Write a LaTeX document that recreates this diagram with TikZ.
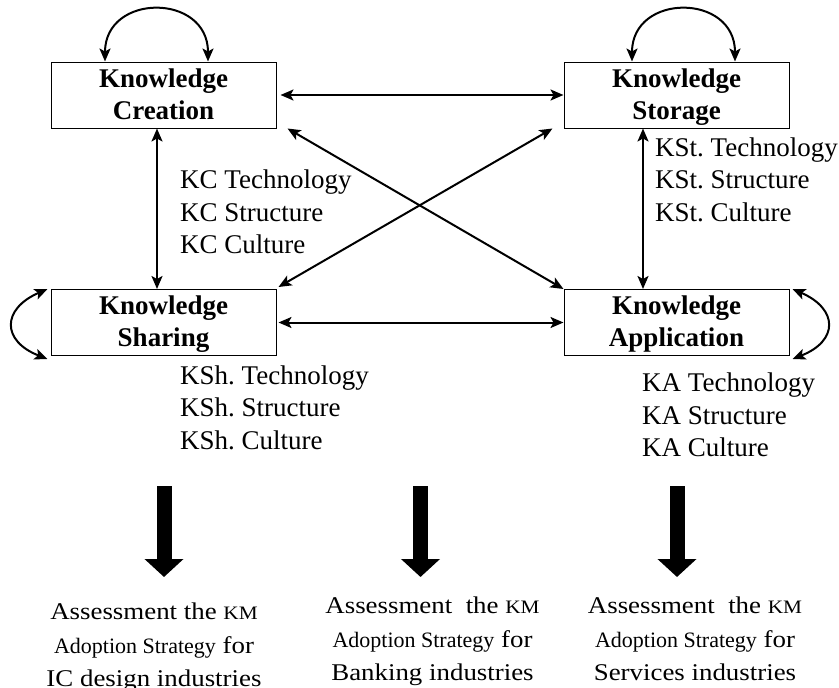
\documentclass[tikz,border=0pt]{standalone}
\usepackage{fontspec}
\setmainfont{Liberation Serif}
\newfontfamily\widefont[FakeStretch=1.12]{Liberation Serif}
\usetikzlibrary{arrows.meta}
\frenchspacing

\tikzset{
  kbox/.style={draw, line width=1pt, minimum width=225pt, minimum height=66pt,
    inner sep=0pt, align=center, font=\bfseries\fontsize{27}{32}\selectfont},
  tipk/.tip={Stealth[length=13pt,width=11pt,inset=3pt]},
  link/.style={line width=2pt, tipk-tipk},
  loop/.style={line width=2pt, tipk-tipk},
  lbl/.style={align=left, inner sep=0pt, anchor=south west,
    font=\fontsize{27}{32.5}\selectfont},
  bigarrow/.style={line width=15pt, -{Triangle[length=18pt,width=38pt]}},
  btm/.style={inner sep=0pt, anchor=base, font=\widefont\fontsize{24}{28}\selectfont}
}
% second line of a box label: fixed depth so all labels sit alike
\newcommand{\lowline}[1]{\raisebox{0pt}[\height][0pt]{#1}\rule[-2.4pt]{0pt}{0pt}}
\newcommand{\kmsmall}[1]{{\fontsize{19}{20}\selectfont #1}}
\newcommand{\adoptsmall}[1]{{\normalfont\fontsize{22}{24}\selectfont #1}}

\begin{document}
\begin{tikzpicture}[x=1pt,y=-1pt]
\useasboundingbox (0,0) rectangle (839,688);

% the four knowledge processes
\node[kbox] (KC)  at (163.5,95)    {Knowledge\\\lowline{Creation}};
\node[kbox] (KSt) at (676.5,95)    {Knowledge\\\lowline{Storage}};
\node[kbox] (KSh) at (163.5,322.5) {Knowledge\\\lowline{Sharing}};
\node[kbox] (KA)  at (676.5,322.5) {Knowledge\\\lowline{Application}};

% links between the processes
\draw[link, shorten <=4pt] (KC.east) -- (KSt.west);
\draw[link, shorten <=2pt] (KSh.east) -- (KA.west);
\draw[link] ([xshift=-6.5pt]KC.south) -- ([xshift=-6.5pt]KSh.north);
\draw[link] ([xshift=-33.5pt]KSt.south) -- ([xshift=-33.5pt]KA.north);
\draw[link] ([xshift=11pt]KC.south east) -- (KA.north west);
\draw[link] ([xshift=2pt,yshift=2pt]KSh.north east) -- ([xshift=-11pt]KSt.south west);

% self loops
\draw[loop] ([xshift=-58.5pt]KC.north) .. controls +(0,-68.7) and +(0,-68.7) .. ([xshift=44.5pt]KC.north);
\draw[loop] ([xshift=-44.5pt]KSt.north) .. controls +(0,-68.7) and +(0,-68.7) .. ([xshift=58.5pt]KSt.north);
\draw[loop] ([xshift=-3pt]KSh.north west) .. controls +(-46,20) and +(-46,-18) .. ([xshift=-3pt,yshift=-3pt]KSh.south west);
\draw[loop] ([xshift=3pt]KA.north east) .. controls +(46,20) and +(46,-18) .. ([xshift=3pt,yshift=-3pt]KA.south east);

% dimension labels
\node[lbl] (lKC)  at (180,254) {KC Technology\\KC Structure\\KC Culture};
\node[lbl] (lKSt) at (655,222) {KSt. Technology\\KSt. Structure\\KSt. Culture};
\node[lbl] (lKSh) at (180,450) {KSh. Technology\\KSh. Structure\\KSh. Culture};
\node[lbl] (lKA)  at (642,457) {KA Technology\\KA Structure\\KA Culture};

% outcome arrows
\coordinate (a1s) at (164,486);   \coordinate (a1e) at (164,577);
\coordinate (a2s) at (420.5,486); \coordinate (a2e) at (420.5,577);
\coordinate (a3s) at (677,486);   \coordinate (a3e) at (677,577);
\draw[bigarrow] (a1s) -- (a1e);
\draw[bigarrow] (a2s) -- (a2e);
\draw[bigarrow] (a3s) -- (a3e);

% assessments per industry
\node[btm] (c1a) at (154,619) {Assessment the \kmsmall{KM}};
\node[btm] (c1b) at (154,653) {\adoptsmall{Adoption Strategy} for};
\node[btm] (c1c) at (154,686) {IC design industries};

\node[btm] (c2a) at (432.5,613) {Assessment\ \ the \kmsmall{KM}};
\node[btm] (c2b) at (432.5,647) {\adoptsmall{Adoption Strategy} for};
\node[btm] (c2c) at (432.5,680) {Banking industries};

\node[btm] (c3a) at (695,613) {Assessment\ \ the \kmsmall{KM}};
\node[btm] (c3b) at (695,647) {\adoptsmall{Adoption Strategy} for};
\node[btm] (c3c) at (695,680) {Services industries};
\end{tikzpicture}
\end{document}
